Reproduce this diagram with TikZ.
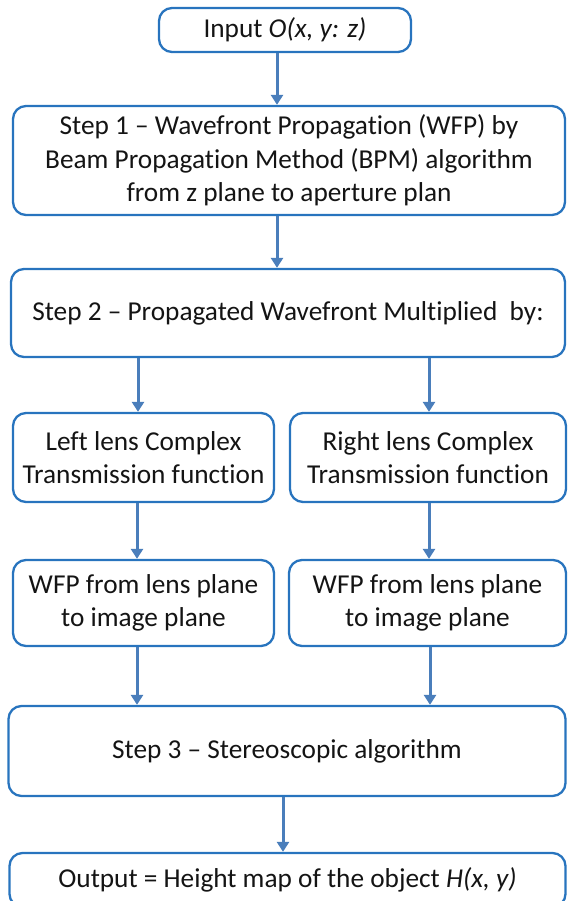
\documentclass[tikz,border=0pt]{standalone}
\usepackage{fontspec}
\setmainfont{Carlito}[Ligatures={NoCommon}]
\usetikzlibrary{arrows.meta}
\definecolor{boxc}{RGB}{40,116,190}
\definecolor{arrc}{RGB}{74,126,187}
\definecolor{txtc}{RGB}{20,20,20}
\begin{document}
\begin{tikzpicture}[x=1pt,y=-1pt,
  box/.style={draw=boxc, line width=2.3pt, rounded corners=13pt, inner sep=0pt,
    align=center, text=txtc, font=\fontsize{27.3}{33.5}\selectfont},
  arr/.style={draw=arrc, line width=3pt, -{Triangle[width=12pt,length=10pt]}}]
\useasboundingbox (0,0) rectangle (567,901);
\node[box, minimum width=252pt, minimum height=44pt] (in) at (285,30) {Input \textit{O(x, y: z)}};
\node[box, minimum width=552pt, minimum height=109pt] (s1) at (289,160.5)
  {Step 1 – Wavefront Propagation (WFP) by\\Beam Propagation Method (BPM) algorithm\\from z plane to aperture plan};
\node[box, minimum width=554pt, minimum height=88pt] (s2) at (288,313)
  {Step 2 – Propagated Wavefront Multiplied\ \ by:};
\node[box, minimum width=261pt, minimum height=89pt] (ll) at (143.5,457.5)
  {Left lens Complex\\Transmission function};
\node[box, minimum width=276pt, minimum height=89pt] (rl) at (428,457.5)
  {Right lens Complex\\Transmission function};
\node[box, minimum width=261pt, minimum height=86pt] (lw) at (143.5,603)
  {WFP from lens plane\\to image plane};
\node[box, minimum width=277pt, minimum height=86pt] (rw) at (427.5,603)
  {WFP from lens plane\\to image plane};
\node[box, minimum width=557pt, minimum height=90pt] (s3) at (287,751)
  {Step 3 – Stereoscopic algorithm};
\node[box, minimum width=556pt, minimum height=54pt] (out) at (287.5,880)
  {Output = Height map of the object \textit{H(x, y)}};
\coordinate (a1) at (277,0);
\coordinate (a2) at (138,0);
\coordinate (a3) at (429,0);
\coordinate (a4) at (137,0);
\coordinate (a5) at (430,0);
\coordinate (a6) at (283,0);
\draw[arr] (in.south -| a1) -- (s1.north -| a1);
\draw[arr] (s1.south -| a1) -- (s2.north -| a1);
\draw[arr] (s2.south -| a2) -- (ll.north -| a2);
\draw[arr] (s2.south -| a3) -- (rl.north -| a3);
\draw[arr] (ll.south -| a4) -- (lw.north -| a4);
\draw[arr] (rl.south -| a3) -- (rw.north -| a3);
\draw[arr] (lw.south -| a4) -- (s3.north -| a4);
\draw[arr] (rw.south -| a5) -- (s3.north -| a5);
\draw[arr] (s3.south -| a6) -- (out.north -| a6);
\end{tikzpicture}
\end{document}
